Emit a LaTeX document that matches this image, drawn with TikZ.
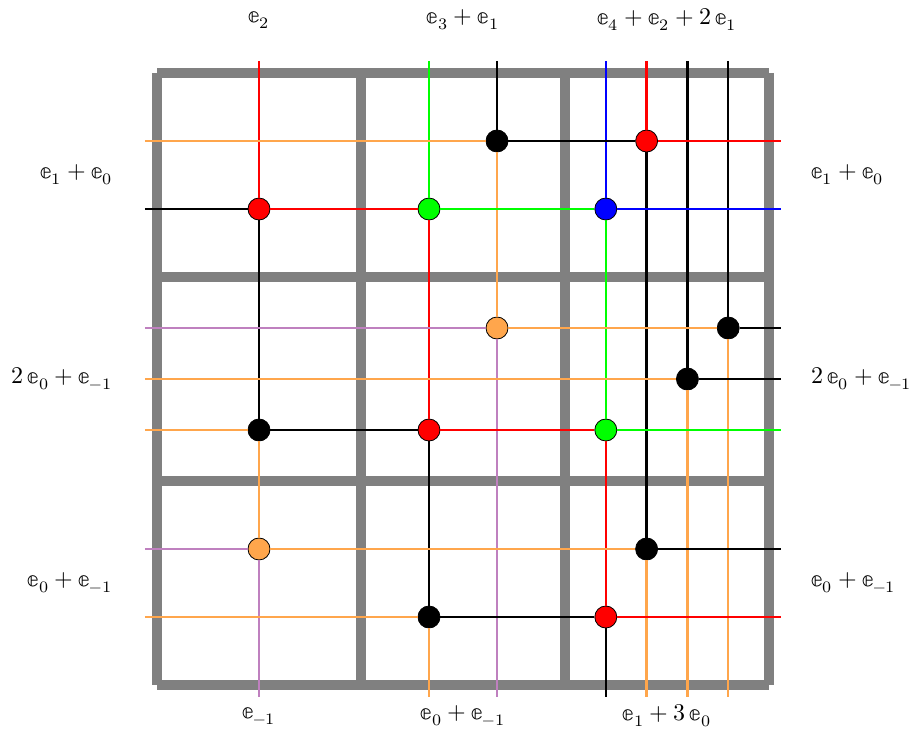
\documentclass[tikz,border=0pt]{standalone}
\usepackage{amsmath}
\usepackage{unicode-math}
\usepackage{tikz}
\usetikzlibrary{positioning}

\colorlet{lorange}{orange!70}
\colorlet{lviolet}{violet!50}
\newcommand{\bbe}{\mathbb{e}}

\begin{document}
\begin{tikzpicture}[
		x=102pt, y=-102pt,
		wall/.style = {draw=gray, line width=5pt},
		wire/.style = {line width=1.2pt},
		dot/.style = {circle, draw, thin, inner sep=0pt, minimum size=11pt},
		lbl/.style = {font=\large, inner sep=0pt}
		]
		\useasboundingbox (-0.7696,-0.3578) rectangle (3.7157,3.2108);
		
		% grid
		\foreach \k in {0,1,2,3} {
			\draw [wall] (0,\k) -- (3,\k);
			\draw [wall] (\k,0) -- (\k,3);
		}
		
		% free ends of the wires
		\coordinate (t1) at (0.5,-0.06);    \coordinate (b1) at (0.5,3.06);
		\coordinate (t2) at (1.3333,-0.06); \coordinate (b2) at (1.3333,3.06);
		\coordinate (t3) at (1.6667,-0.06); \coordinate (b3) at (1.6667,3.06);
		\coordinate (t4) at (2.2,-0.06);    \coordinate (b4) at (2.2,3.06);
		\coordinate (t5) at (2.4,-0.06);    \coordinate (b5) at (2.4,3.06);
		\coordinate (t6) at (2.6,-0.06);    \coordinate (b6) at (2.6,3.06);
		\coordinate (t7) at (2.8,-0.06);    \coordinate (b7) at (2.8,3.06);
		\coordinate (l1) at (-0.06,0.3333); \coordinate (e1) at (3.06,0.3333);
		\coordinate (l2) at (-0.06,0.6667); \coordinate (e2) at (3.06,0.6667);
		\coordinate (l3) at (-0.06,1.25);   \coordinate (e3) at (3.06,1.25);
		\coordinate (l4) at (-0.06,1.5);    \coordinate (e4) at (3.06,1.5);
		\coordinate (l5) at (-0.06,1.75);   \coordinate (e5) at (3.06,1.75);
		\coordinate (l6) at (-0.06,2.3333); \coordinate (e6) at (3.06,2.3333);
		\coordinate (l7) at (-0.06,2.6667); \coordinate (e7) at (3.06,2.6667);
		
		% crossings
		\node [dot, fill=black] (d31) at (1.6667,0.3333) {};
		\node [dot, fill=red] (d51) at (2.4,0.3333) {};
		\node [dot, fill=red] (d12) at (0.5,0.6667) {};
		\node [dot, fill=green] (d22) at (1.3333,0.6667) {};
		\node [dot, fill=blue] (d42) at (2.2,0.6667) {};
		\node [dot, fill=lorange] (d33) at (1.6667,1.25) {};
		\node [dot, fill=black] (d73) at (2.8,1.25) {};
		\node [dot, fill=black] (d64) at (2.6,1.5) {};
		\node [dot, fill=black] (d15) at (0.5,1.75) {};
		\node [dot, fill=red] (d25) at (1.3333,1.75) {};
		\node [dot, fill=green] (d45) at (2.2,1.75) {};
		\node [dot, fill=lorange] (d16) at (0.5,2.3333) {};
		\node [dot, fill=black] (d56) at (2.4,2.3333) {};
		\node [dot, fill=black] (d27) at (1.3333,2.6667) {};
		\node [dot, fill=red] (d47) at (2.2,2.6667) {};
		
		% vertical wires
		\draw [wire, red] (t1) -- (d12);
		\draw [wire, black] (d12) -- (d15);
		\draw [wire, lorange] (d15) -- (d16);
		\draw [wire, lviolet] (d16) -- (b1);
		
		\draw [wire, green] (t2) -- (d22);
		\draw [wire, red] (d22) -- (d25);
		\draw [wire, black] (d25) -- (d27);
		\draw [wire, lorange] (d27) -- (b2);
		
		\draw [wire, black] (t3) -- (d31);
		\draw [wire, lorange] (d31) -- (d33);
		\draw [wire, lviolet] (d33) -- (b3);
		
		\draw [wire, blue] (t4) -- (d42);
		\draw [wire, green] (d42) -- (d45);
		\draw [wire, red] (d45) -- (d47);
		\draw [wire, black] (d47) -- (b4);
		
		\draw [wire, red] (t5) -- (d51);
		\draw [wire, black] (d51) -- (d56);
		\draw [wire, lorange] (d56) -- (b5);
		
		\draw [wire, black] (t6) -- (d64);
		\draw [wire, lorange] (d64) -- (b6);
		
		\draw [wire, black] (t7) -- (d73);
		\draw [wire, lorange] (d73) -- (b7);
		
		% horizontal wires
		\draw [wire, lorange] (l1) -- (d31);
		\draw [wire, black] (d31) -- (d51);
		\draw [wire, red] (d51) -- (e1);
		
		\draw [wire, black] (l2) -- (d12);
		\draw [wire, red] (d12) -- (d22);
		\draw [wire, green] (d22) -- (d42);
		\draw [wire, blue] (d42) -- (e2);
		
		\draw [wire, lviolet] (l3) -- (d33);
		\draw [wire, lorange] (d33) -- (d73);
		\draw [wire, black] (d73) -- (e3);
		
		\draw [wire, lorange] (l4) -- (d64);
		\draw [wire, black] (d64) -- (e4);
		
		\draw [wire, lorange] (l5) -- (d15);
		\draw [wire, black] (d15) -- (d25);
		\draw [wire, red] (d25) -- (d45);
		\draw [wire, green] (d45) -- (e5);
		
		\draw [wire, lviolet] (l6) -- (d16);
		\draw [wire, lorange] (d16) -- (d56);
		\draw [wire, black] (d56) -- (e6);
		
		\draw [wire, lorange] (l7) -- (d27);
		\draw [wire, black] (d27) -- (d47);
		\draw [wire, red] (d47) -- (e7);
		
		% labels
		\node [lbl] (top1) at (0.5,-0.26) {$\bbe_2$};
		\node [lbl] (top2) at (1.5,-0.26) {$\bbe_3+\bbe_1$};
		\node [lbl] (top3) at (2.5,-0.26) {$\bbe_4+\bbe_2+2\,\bbe_1$};
		\node [lbl] (bot1) at (0.5,3.152) {$\bbe_{-1}$};
		\node [lbl] (bot2) at (1.5,3.152) {$\bbe_0+\bbe_{-1}$};
		\node [lbl] (bot3) at (2.5,3.152) {$\bbe_1+3\,\bbe_0$};
		\node [lbl, anchor=east] (left1) at (-0.216,0.5) {$\bbe_1+\bbe_0$};
		\node [lbl, anchor=east] (left2) at (-0.216,1.5) {$2\,\bbe_0+\bbe_{-1}$};
		\node [lbl, anchor=east] (left3) at (-0.216,2.5) {$\bbe_0+\bbe_{-1}$};
		\node [lbl, anchor=west] (right1) at (3.206,0.5) {$\bbe_1+\bbe_0$};
		\node [lbl, anchor=west] (right2) at (3.206,1.5) {$2\,\bbe_0+\bbe_{-1}$};
		\node [lbl, anchor=west] (right3) at (3.206,2.5) {$\bbe_0+\bbe_{-1}$};
	\end{tikzpicture}
\end{document}
